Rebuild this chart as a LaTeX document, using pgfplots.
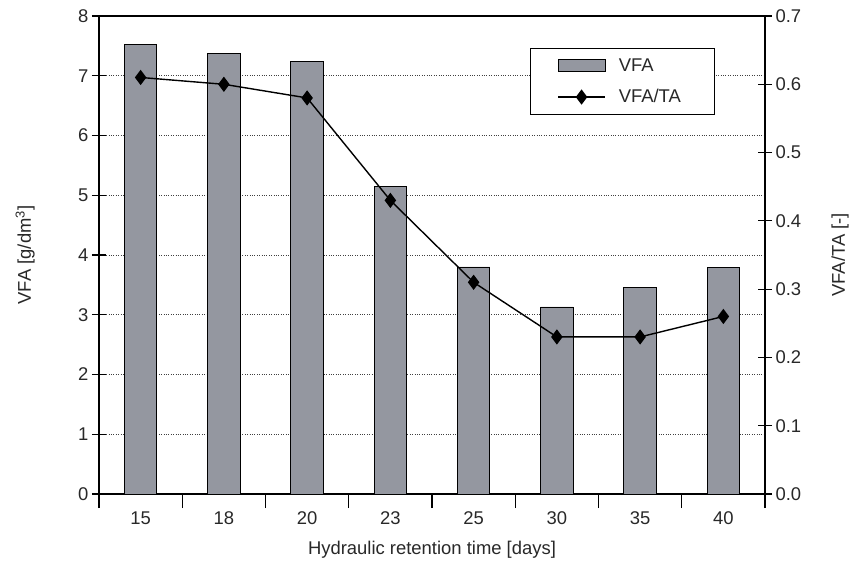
\documentclass[border=0pt]{standalone}
\usepackage{pgfplots}
\pgfplotsset{compat=1.18}
\usepackage{fontspec}
\setmainfont{Liberation Sans}
\definecolor{barcol}{RGB}{148,151,160}
\definecolor{txt}{RGB}{40,40,40}
\begin{document}
\begin{tikzpicture}
\pgfplotsset{
 common/.style={
  scale only axis, width=666bp, height=478bp,
  xmin=-0.5, xmax=7.5,
  /pgf/number format/assume math mode=true,
  tick label style={font=\fontsize{18.5}{21}\selectfont, text=txt},
  label style={font=\fontsize{18.5}{21}\selectfont, text=txt},
  tick align=center, major tick length=14bp,
  axis line style={line width=1.2bp},
  every tick/.append style={line width=1.2bp, black},
 }
}
\begin{axis}[common, name=ax,
  ybar, bar width=0.39,
  ymin=0, ymax=8, ytick={0,1,2,3,4,5,6,7,8}, ytick pos=left,
  xtick={0,...,7}, xticklabels={15,18,20,23,25,30,35,40}, xtick pos=bottom,
  every major x tick/.append style={draw=none},
  minor xtick={-0.5,0.5,1.5,2.5,3.5,4.5,5.5,6.5,7.5}, minor tick length=14bp,
  ymajorgrids, grid style={dotted, black!75, line width=0.8bp},
  xlabel={Hydraulic retention time [days]},
  xlabel style={at={(axis description cs:0.5,-0.117)}, anchor=center},
  ylabel={VFA [g/dm\textsuperscript{3}]},
  ylabel style={at={(axis description cs:-0.111,0.5)}, anchor=center},
]
\addplot[fill=barcol, draw=black, line width=0.9bp] coordinates {(0,7.53)(1,7.37)(2,7.24)(3,5.15)(4,3.80)(5,3.13)(6,3.46)(7,3.79)};
\end{axis}
\begin{axis}[common,
  ymin=0, ymax=0.7, axis y line*=right, axis x line=none,
  ytick={0,0.1,0.2,0.3,0.4,0.5,0.6,0.7},
  yticklabel style={/pgf/number format/.cd, fixed, fixed zerofill, precision=1},
  ylabel={VFA/TA [-]},
  ylabel style={at={(axis description cs:1.1126,0.5)}, anchor=center, rotate=0},
  legend style={at={(axis description cs:0.647,0.933)}, anchor=north west,
    draw=black, line width=0.9bp, fill=white, inner xsep=27bp, inner ysep=8bp, row sep=13bp,
    font=\fontsize{18.5}{21}\selectfont, text=txt,
    nodes={inner xsep=7bp},
    /tikz/every odd column/.append style={column sep=6bp}},
  legend cell align=left,
]
\addlegendimage{legend image code/.code={\draw[fill=barcol, draw=black, line width=0.9bp] (0bp,-6bp) rectangle (47bp,6bp);}}
\addlegendentry{VFA}
\addplot[black, line width=1.4bp, mark=diamond*, mark size=6.5bp, mark options={solid, fill=black},
  legend image code/.code={\draw[line width=1.4bp] (0bp,0bp) -- (47bp,0bp); \draw plot[mark=diamond*, mark size=6.5bp, mark options={fill=black}] coordinates {(23.5bp,0bp)};}]
 coordinates {(0,0.61)(1,0.60)(2,0.58)(3,0.43)(4,0.31)(5,0.23)(6,0.23)(7,0.26)};
\addlegendentry{VFA/TA}
\end{axis}
\pgfresetboundingbox
\path ([shift={(-99bp,-68bp)}]ax.south west) rectangle ++(851bp,562bp);
\end{tikzpicture}
\end{document}
